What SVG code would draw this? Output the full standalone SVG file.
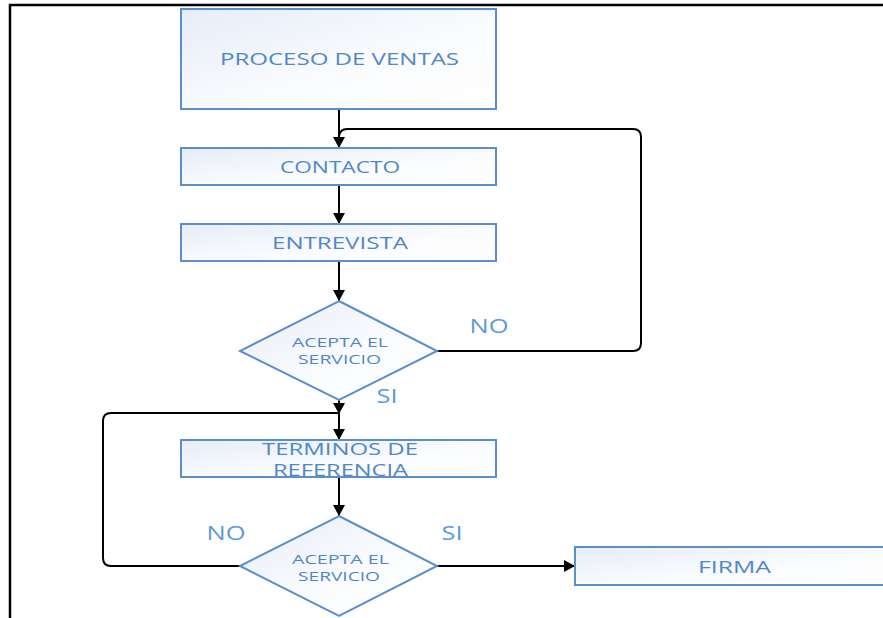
<svg xmlns="http://www.w3.org/2000/svg" width="883" height="618" viewBox="0 0 883 618">
<defs>
<linearGradient id="g" x1="0" y1="0" x2="1" y2="1">
<stop offset="0" stop-color="#e6edf8"/>
<stop offset="0.6" stop-color="#fbfcfe"/>
<stop offset="1" stop-color="#ffffff"/>
</linearGradient>
<marker id="ah" viewBox="0 0 10 10" refX="10" refY="5" markerWidth="11" markerHeight="12" markerUnits="userSpaceOnUse" orient="auto" preserveAspectRatio="none">
<path d="M0,0 L10,5 L0,10 Z" fill="#000"/>
</marker>
<style>
.box{fill:url(#g);stroke:#5b8fc9;stroke-width:2}
.t{font-family:"Open Sans","Liberation Sans",sans-serif;fill:#4f88c6;text-anchor:middle;font-size:16px}
.ts{font-family:"Open Sans","Liberation Sans",sans-serif;fill:#4f88c6;text-anchor:middle;font-size:13px}
.lb{font-family:"Open Sans","Liberation Sans",sans-serif;fill:#5b9bd5;text-anchor:middle;font-size:20px}
.c{fill:none;stroke:#000;stroke-width:2}
.ca{fill:none;stroke:#000;stroke-width:2;marker-end:url(#ah)}
</style>
</defs>
<rect width="883" height="618" fill="#fff"/>
<path d="M10,618 V5 H883" fill="none" stroke="#000" stroke-width="2.5"/>
<g id="connectors">
<path class="ca" d="M339,109 V148"/>
<path class="c" d="M437,351 H633 Q641,351 641,343 V137 Q641,129 633,129 H347 Q340,129 339,136"/>
<path class="ca" d="M339,185 V224"/>
<path class="ca" d="M339,261 V301"/>
<path class="ca" d="M339,400 V414"/>
<path class="ca" d="M339,414 V440"/>
<path class="c" d="M240,566 H111 Q103,566 103,558 V421 Q103,413 111,413 H339"/>
<path class="ca" d="M339,477 V516"/>
<path class="ca" d="M437,566 H575"/>
<text class="lb" x="489" y="333" textLength="39" lengthAdjust="spacingAndGlyphs">NO</text>
<text class="lb" x="387" y="403" textLength="21" lengthAdjust="spacingAndGlyphs">SI</text>
<text class="lb" x="226" y="540" textLength="39" lengthAdjust="spacingAndGlyphs">NO</text>
<text class="lb" x="452" y="540" textLength="21" lengthAdjust="spacingAndGlyphs">SI</text>
</g>
<g id="proceso">
<rect class="box" x="181" y="9" width="315" height="100"/>
<text class="t" x="339.5" y="65" textLength="239" lengthAdjust="spacingAndGlyphs">PROCESO DE VENTAS</text>
</g>
<g id="contacto">
<rect class="box" x="181" y="148" width="315" height="37"/>
<text class="t" x="340" y="173" textLength="120" lengthAdjust="spacingAndGlyphs">CONTACTO</text>
</g>
<g id="entrevista">
<rect class="box" x="181" y="224" width="315" height="37"/>
<text class="t" x="340" y="249" textLength="136" lengthAdjust="spacingAndGlyphs">ENTREVISTA</text>
</g>
<g id="decision1">
<polygon class="box" points="339,301 437,351 339,400 240,351"/>
<text class="ts" x="340" y="347" textLength="96" lengthAdjust="spacingAndGlyphs">ACEPTA EL</text>
<text class="ts" x="339.5" y="364" textLength="83" lengthAdjust="spacingAndGlyphs">SERVICIO</text>
</g>
<g id="terminos">
<rect class="box" x="181" y="440" width="315" height="37"/>
<text class="t" x="340" y="455" textLength="156" lengthAdjust="spacingAndGlyphs">TERMINOS DE</text>
<text class="t" x="340.5" y="476" textLength="135" lengthAdjust="spacingAndGlyphs">REFERENCIA</text>
</g>
<g id="decision2">
<polygon class="box" points="339,516 437,566 339,616 240,566"/>
<text class="ts" x="340.5" y="564" textLength="97" lengthAdjust="spacingAndGlyphs">ACEPTA EL</text>
<text class="ts" x="339" y="581" textLength="82" lengthAdjust="spacingAndGlyphs">SERVICIO</text>
</g>
<g id="firma">
<rect class="box" x="575" y="547" width="320" height="38"/>
<text class="t" x="734.5" y="573" textLength="73" lengthAdjust="spacingAndGlyphs">FIRMA</text>
</g>
</svg>
